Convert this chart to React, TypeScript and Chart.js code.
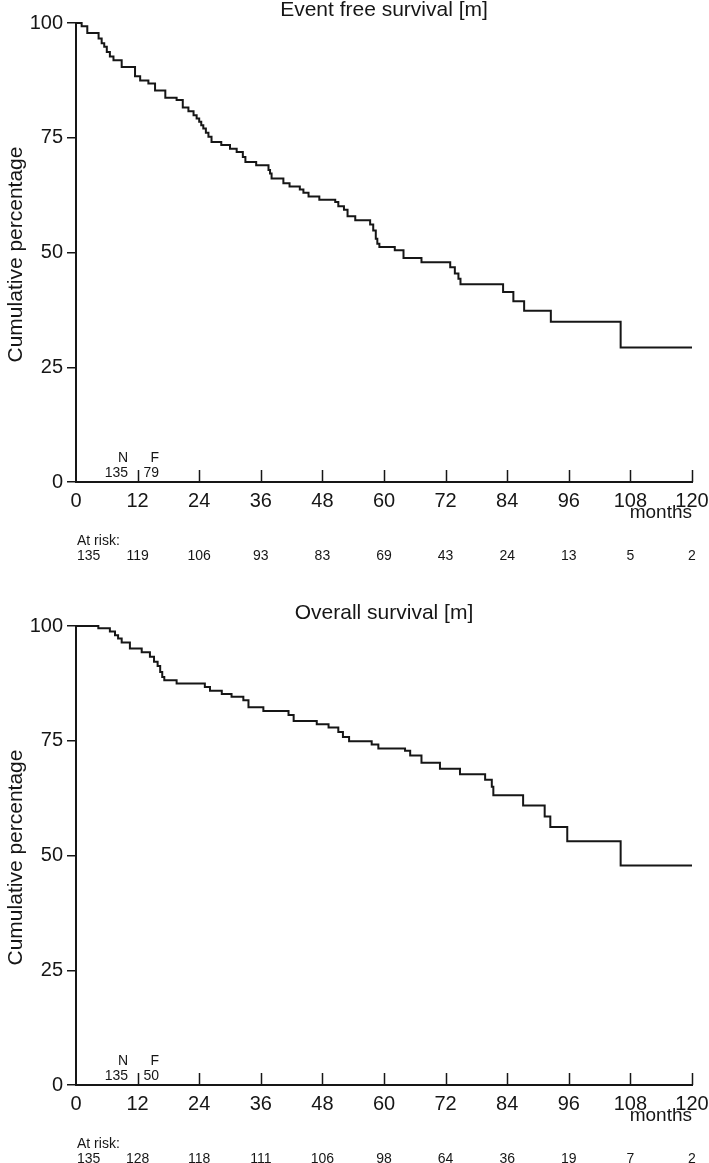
import React, { useEffect, useRef } from "react";
import { Chart, registerables } from "chart.js";

Chart.register(...registerables);

// ---- data ----
const monthTicks = [0, 12, 24, 36, 48, 60, 72, 84, 96, 108, 120];
const percentTicks = [0, 25, 50, 75, 100];

const efsTimes = [
  0, 1.1, 2.2, 4.4, 5.0, 5.5, 6.0, 6.6, 7.3, 8.9, 11.5, 12.5, 14.1, 15.4, 17.4,
  19.6, 20.8, 21.9, 22.9, 23.5, 24.0, 24.4, 24.8, 25.3, 25.8, 26.4, 28.3, 30.0,
  31.3, 32.5, 33.0, 35.1, 37.5, 37.8, 38.1, 40.4, 41.6, 43.6, 44.3, 45.3, 47.4,
  50.5, 51.1, 52.2, 52.9, 54.4, 57.3, 57.9, 58.4, 58.7, 59.1, 62.1, 63.8, 67.3,
  72.9, 73.8, 74.5, 74.9, 83.2, 85.2, 87.3, 92.5, 106.1, 120,
];
const efsSurvival = [
  100, 99.3, 97.8, 96.6, 95.6, 94.8, 93.7, 92.7, 91.9, 90.4, 88.4, 87.5, 86.8,
  85.3, 83.7, 83.2, 81.6, 80.8, 79.9, 79.2, 78.5, 77.7, 77.0, 76.1, 75.2, 74.1,
  73.4, 72.6, 71.9, 70.8, 69.7, 69.0, 68.0, 67.2, 66.1, 65.1, 64.4, 63.7, 63.0,
  62.2, 61.5, 61.0, 60.1, 59.3, 57.9, 57.0, 56.1, 54.8, 53.0, 51.9, 51.2, 50.5,
  48.8, 47.9, 46.8, 45.4, 44.3, 43.1, 41.4, 39.4, 37.3, 34.9, 29.3, 29.3,
];
const efsAtRisk = [135, 119, 106, 93, 83, 69, 43, 24, 13, 5, 2];
const efsN = 135;
const efsF = 79;

const osTimes = [
  0, 4.35, 6.6, 7.6, 8.2, 8.9, 10.5, 12.8, 14.4, 15.2, 15.9, 16.4, 16.8, 17.2,
  19.6, 25.1, 26.1, 28.4, 30.3, 32.6, 33.6, 36.5, 41.4, 42.4, 46.9, 49.2, 51.1,
  52.0, 53.2, 57.6, 58.9, 64.1, 65.1, 67.3, 70.9, 74.8, 79.7, 81.0, 81.3, 87.1,
  91.3, 92.4, 95.7, 106.1, 120,
];
const osSurvival = [
  100, 99.5, 98.8, 98.0, 97.3, 96.4, 95.1, 94.3, 93.3, 92.2, 91.3, 90.0, 88.9,
  88.2, 87.5, 86.7, 85.9, 85.2, 84.6, 83.8, 82.3, 81.5, 80.6, 79.3, 78.6, 77.9,
  76.9, 75.8, 74.9, 74.2, 73.3, 72.8, 71.8, 70.2, 68.9, 67.7, 66.5, 65.0, 63.1,
  60.9, 58.5, 56.2, 53.1, 47.8, 47.8,
];
const osAtRisk = [135, 128, 118, 111, 106, 98, 64, 36, 19, 7, 2];
const osN = 135;
const osF = 50;

// ---- style ----
const FONT = '"Liberation Sans", Arial, Helvetica, sans-serif';
const INK = "#161616";
const AXIS_BOTTOM = 482;
const AXIS_TOP = 23;
const RIGHT_GAP = 17;

type PanelProps = {
  title: string;
  times: number[];
  surv: number[];
  atRisk: number[];
  n: number;
  f: number;
  height: number;
  top: number;
};

function Panel({ title, times, surv, atRisk, n, f, height, top }: PanelProps) {
  const ref = useRef<HTMLCanvasElement | null>(null);

  useEffect(() => {
    if (!ref.current) return;
    const annot = {
      id: "kmAnnot",
      afterDraw(chart: any) {
        const { ctx, chartArea } = chart;
        const xs = chart.scales.x;
        const bottom = chartArea.bottom;
        ctx.save();
        // inward x ticks
        ctx.strokeStyle = INK;
        ctx.lineWidth = 1.5;
        ctx.beginPath();
        monthTicks.forEach((v) => {
          if (v === 0) return;
          const px = Math.round(xs.getPixelForValue(v)) + 0.5;
          ctx.moveTo(px, bottom);
          ctx.lineTo(px, bottom - 12);
        });
        ctx.stroke();

        ctx.fillStyle = INK;
        // title
        ctx.font = `21px ${FONT}`;
        ctx.textAlign = "center";
        ctx.textBaseline = "alphabetic";
        ctx.fillText(title, (chartArea.left + chartArea.right) / 2, 16);

        // y title
        ctx.save();
        ctx.translate(22, (chartArea.top + chartArea.bottom) / 2 + 2);
        ctx.rotate(-Math.PI / 2);
        ctx.textAlign = "center";
        ctx.fillText("Cumulative percentage", 0, 0);
        ctx.restore();

        // months
        ctx.font = `19px ${FONT}`;
        ctx.textAlign = "right";
        ctx.fillText("months", xs.getPixelForValue(120), bottom + 36);

        // N / F
        const x12 = xs.getPixelForValue(12);
        ctx.font = `14px ${FONT}`;
        ctx.textAlign = "right";
        ctx.fillText("N", x12 - 9.5, bottom - 20);
        ctx.fillText(String(n), x12 - 9.5, bottom - 5);
        ctx.fillText("F", x12 + 21.5, bottom - 20);
        ctx.fillText(String(f), x12 + 21.5, bottom - 5);

        // at risk
        ctx.textAlign = "left";
        ctx.fillText("At risk:", chartArea.left + 1, bottom + 63);
        atRisk.forEach((v, i) => {
          const px = xs.getPixelForValue(monthTicks[i]);
          if (i === 0) {
            ctx.textAlign = "left";
            ctx.fillText(String(v), chartArea.left + 1, bottom + 78);
          } else {
            ctx.textAlign = "center";
            ctx.fillText(String(v), px, bottom + 78);
          }
        });
        ctx.restore();
      },
    };

    const chart = new Chart(ref.current, {
      type: "line",
      data: {
        datasets: [
          {
            data: times.map((t, i) => ({ x: t, y: surv[i] })),
            stepped: true,
            borderColor: INK,
            borderWidth: 2,
            pointRadius: 0,
            fill: false,
            clip: false,
          } as any,
        ],
      },
      options: {
        responsive: false,
        animation: false,
        events: [],
        layout: { padding: { top: AXIS_TOP, right: 0, left: 0, bottom: 0 } },
        plugins: {
          legend: { display: false },
          tooltip: { enabled: false },
          title: { display: false },
        },
        scales: {
          x: {
            type: "linear",
            min: 0,
            max: 120,
            afterBuildTicks: (s: any) => {
              s.ticks = monthTicks.map((v) => ({ value: v }));
            },
            ticks: {
              font: { family: FONT, size: 20 },
              color: INK,
              padding: 7,
              maxRotation: 0,
              autoSkip: false,
            },
            grid: { display: false, drawTicks: false },
            border: { display: true, color: INK, width: 2 },
            afterFit: (s: any) => {
              s.height = height - AXIS_BOTTOM;
              s.paddingRight = RIGHT_GAP;
              s.paddingLeft = 0;
            },
          },
          y: {
            type: "linear",
            min: 0,
            max: 100,
            afterBuildTicks: (s: any) => {
              s.ticks = percentTicks.map((v) => ({ value: v }));
            },
            ticks: {
              font: { family: FONT, size: 20 },
              color: INK,
              padding: 4,
            },
            grid: {
              display: true,
              drawOnChartArea: false,
              drawTicks: true,
              tickLength: 9,
              color: INK,
              lineWidth: 1.5,
            },
            border: { display: true, color: INK, width: 2 },
            afterFit: (s: any) => {
              s.width = 76;
              s.paddingTop = 0;
              s.paddingBottom = 0;
            },
          },
        },
      } as any,
      plugins: [annot],
    });
    return () => chart.destroy();
  }, [title, times, surv, atRisk, n, f, height]);

  return (
    <canvas
      ref={ref}
      width={709}
      height={height}
      style={{ position: "absolute", left: 0, top, width: 709, height, display: "block" }}
    />
  );
}

export default function App() {
  return (
    <div
      style={{
        position: "absolute",
        left: 0,
        top: 0,
        width: 709,
        height: 1163,
        background: "#ffffff",
        overflow: "hidden",
      }}
    >
      <Panel
        title="Event free survival [m]"
        times={efsTimes}
        surv={efsSurvival}
        atRisk={efsAtRisk}
        n={efsN}
        f={efsF}
        height={580}
        top={0}
      />
      <Panel
        title="Overall survival [m]"
        times={osTimes}
        surv={osSurvival}
        atRisk={osAtRisk}
        n={osN}
        f={osF}
        height={560}
        top={603}
      />
    </div>
  );
}
